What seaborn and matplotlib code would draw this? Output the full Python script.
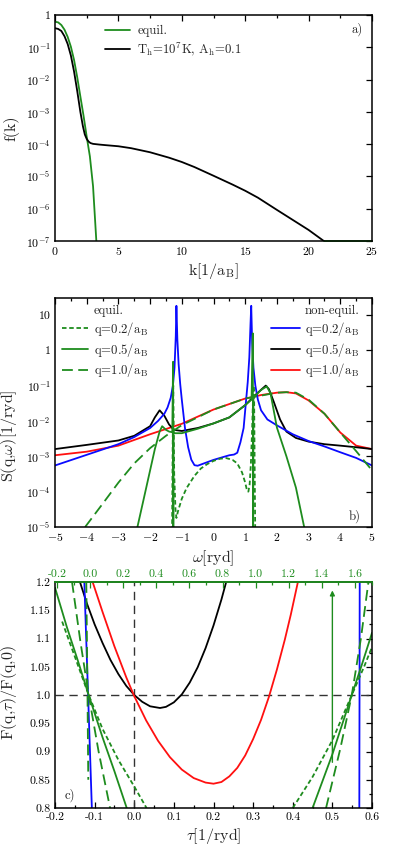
import numpy as np
import pandas as pd
import matplotlib
matplotlib.use("Agg")
import matplotlib.pyplot as plt
import seaborn as sns
from matplotlib.lines import Line2D
from matplotlib.ticker import FixedLocator, MultipleLocator, FixedFormatter, NullLocator

# ---------------- data: panel a ----------------
k_eq = [0.0, 0.25, 0.5, 0.75, 1.0, 1.25, 1.5, 1.75, 2.0, 2.25, 2.5, 2.75, 3.0, 3.26, 3.4]
f_eq = [6.2e-1, 5.9e-1, 4.9e-1, 3.5e-1, 2.1e-1, 1.05e-1, 4.1e-2, 1.2e-2, 3.0e-3, 7.6e-4,
        1.7e-4, 4.2e-5, 5.0e-6, 1.0e-7, 1.0e-8]
k_eq_tail = [21.2, 25.0]
f_eq_tail = [1.0e-7, 1.0e-7]
k_hot = [0.0, 0.25, 0.5, 0.75, 1.0, 1.25, 1.5, 1.75, 2.0, 2.2, 2.35, 2.5, 2.65, 2.8, 3.0,
         3.5, 4.0, 5.0, 6.0, 7.5, 9.0, 10.0, 11.0, 12.5, 14.0, 15.0, 16.0, 17.5, 19.0,
         20.0, 21.2]
f_hot = [3.9e-1, 3.7e-1, 3.2e-1, 2.2e-1, 1.26e-1, 5.6e-2, 1.8e-2, 4.5e-3, 1.0e-3, 3.6e-4,
         2.0e-4, 1.45e-4, 1.2e-4, 1.08e-4, 1.02e-4, 9.7e-5, 9.3e-5, 8.6e-5, 7.5e-5, 5.6e-5,
         3.8e-5, 2.8e-5, 1.95e-5, 1.05e-5, 5.6e-6, 3.6e-6, 2.2e-6, 9.2e-7, 3.9e-7, 2.2e-7,
         1.0e-7]

# ---------------- data: panel b (omega [ryd], S [1/ryd]) ----------------
w_b02 = [-5.0, -4.0, -3.0, -2.5, -2.0, -1.75, -1.55, -1.45, -1.35, -1.28, -1.23, -1.19,
         -1.17, -1.14, -1.1, -1.05, -1.0, -0.9, -0.8, -0.7, -0.6, -0.5, -0.3, 0.0, 0.3,
         0.5, 0.65, 0.75, 0.85, 0.95, 1.02, 1.08, 1.13, 1.17, 1.19, 1.22, 1.26, 1.32, 1.4,
         1.5, 1.7, 2.0, 2.5, 3.0, 3.5, 4.0, 4.5, 5.0]
S_b02 = [5.5e-4, 1.1e-3, 2.2e-3, 3.5e-3, 6.3e-3, 1.0e-2, 1.6e-2, 2.4e-2, 4.5e-2, 1.0e-1,
         3.2e-1, 2.5e0, 1.8e1, 2.0e0, 4.0e-1, 1.1e-1, 4.0e-2, 6.3e-3, 1.8e-3, 8.0e-4,
         5.6e-4, 5.4e-4, 6.3e-4, 7.9e-4, 9.5e-4, 1.07e-3, 1.12e-3, 1.26e-3, 2.5e-3,
         6.3e-3, 3.2e-2, 1.26e-1, 6.3e-1, 6.3e0, 1.8e1, 1.6e0, 3.2e-1, 1.0e-1, 4.0e-2,
         2.0e-2, 1.1e-2, 7.5e-3, 4.2e-3, 2.7e-3, 1.9e-3, 1.3e-3, 9.0e-4, 5.5e-4]
w_b05 = [-5.0, -4.0, -3.0, -2.5, -2.0, -1.85, -1.7, -1.55, -1.4, -1.25, -1.0, -0.5, 0.0,
         0.5, 1.0, 1.3, 1.5, 1.65, 1.75, 1.9, 2.1, 2.3, 2.6, 3.0, 3.5, 4.0, 4.5, 5.0]
S_b05 = [1.6e-3, 2.1e-3, 2.8e-3, 3.8e-3, 7.1e-3, 1.26e-2, 2.0e-2, 1.4e-2, 7.9e-3, 5.6e-3,
         5.2e-3, 6.3e-3, 8.5e-3, 1.26e-2, 2.8e-2, 5.2e-2, 7.6e-2, 1.0e-1, 7.9e-2, 3.5e-2,
         1.1e-2, 5.0e-3, 3.3e-3, 2.6e-3, 2.2e-3, 2.0e-3, 1.8e-3, 1.6e-3]
w_b10 = [-5.0, -4.0, -3.0, -2.0, -1.0, 0.0, 1.0, 1.5, 2.0, 2.3, 2.6, 3.0, 3.5, 4.0, 4.5, 5.0]
S_b10 = [1.07e-3, 1.35e-3, 2.0e-3, 4.2e-3, 8.3e-3, 2.1e-2, 4.3e-2, 5.4e-2, 6.3e-2, 6.5e-2,
         6.0e-2, 3.8e-2, 1.6e-2, 4.7e-3, 2.0e-3, 1.6e-3]
w_e10 = [-4.05, -3.5, -3.0, -2.5, -2.0, -1.5, -1.0, 0.0, 1.0, 2.0, 2.3, 2.6, 3.0, 3.5, 4.0,
         4.5, 5.0]
S_e10 = [1.0e-5, 4.5e-5, 1.8e-4, 6.3e-4, 1.7e-3, 3.8e-3, 7.6e-3, 2.1e-2, 4.3e-2, 6.3e-2,
         6.5e-2, 6.3e-2, 4.0e-2, 1.6e-2, 4.7e-3, 1.4e-3, 4.0e-4]
w_e05 = [-2.4, -2.2, -2.0, -1.85, -1.7, -1.62, -1.5, -1.4, -1.3, -1.275, -1.268, -1.262,
         -1.2, -1.0, -0.5, 0.0, 0.5, 1.0, 1.2, 1.24, 1.25, 1.26, 1.3, 1.5, 1.68, 1.8,
         2.0, 2.3, 2.6, 2.86]
S_e05 = [1.0e-5, 6.3e-5, 4.0e-4, 1.6e-3, 5.0e-3, 7.1e-3, 5.6e-3, 5.0e-3, 4.8e-3, 4.7e-1,
         1.0e-6, 4.6e-3, 4.5e-3, 4.5e-3, 6.0e-3, 8.5e-3, 1.26e-2, 2.8e-2, 4.0e-2, 3.0e0,
         1.0e-6, 4.5e-2, 5.0e-2, 7.5e-2, 9.5e-2, 6.0e-2, 6.5e-3, 1.0e-3, 1.3e-4, 1.0e-5]
w_e02 = [-1.31, -1.29, -1.27, -1.24, -1.2, -1.17, -1.12, -1.0, -0.85, -0.6, -0.4, -0.2,
         0.0, 0.2, 0.4, 0.6, 0.75, 0.9, 1.0, 1.06, 1.1, 1.14, 1.18, 1.22, 1.26, 1.28,
         1.30, 1.32]
S_e02 = [3.0e-6, 1.0e-3, 1.0e-1, 3.2e-4, 3.2e-5, 1.8e-5, 2.8e-5, 6.3e-5, 1.26e-4, 2.8e-4,
         4.5e-4, 6.0e-4, 7.4e-4, 8.5e-4, 8.9e-4, 7.9e-4, 6.3e-4, 3.5e-4, 1.8e-4, 1.05e-4,
         1.0e-4, 1.6e-4, 6.3e-4, 6.3e-3, 1.0e-1, 6.3e-2, 3.2e-4, 3.0e-6]

# ---------------- data: panel c (tau [1/ryd], F(q,tau)/F(q,0)) ----------------
t_black = [-0.137, -0.12, -0.1, -0.08, -0.06, -0.04, -0.02, 0.0, 0.02, 0.04, 0.065, 0.08,
           0.1, 0.12, 0.14, 0.16, 0.18, 0.2, 0.22, 0.232]
F_black = [1.2, 1.163, 1.125, 1.092, 1.062, 1.037, 1.016, 1.0, 0.988, 0.98, 0.977, 0.979,
           0.987, 1.001, 1.022, 1.049, 1.083, 1.123, 1.169, 1.2]
t_red = [-0.105, -0.08, -0.05, -0.02, 0.0, 0.03, 0.06, 0.09, 0.12, 0.15, 0.18, 0.2, 0.22,
         0.24, 0.26, 0.28, 0.3, 0.32, 0.34, 0.36, 0.38, 0.395, 0.413]
F_red = [1.2, 1.147, 1.086, 1.031, 0.998, 0.955, 0.919, 0.89, 0.868, 0.853, 0.845, 0.843,
         0.846, 0.856, 0.871, 0.893, 0.922, 0.956, 0.997, 1.045, 1.098, 1.142, 1.2]
t_blue_l = [-0.126, -0.107]
F_blue_l = [1.2, 0.8]
t_blue_r = [0.568, 0.569]
F_blue_r = [0.8, 1.2]
t_g02_l = [-0.182, -0.15, -0.115, -0.08, -0.04, 0.0, 0.031]
F_g02_l = [1.13, 1.068, 1.0, 0.94, 0.885, 0.838, 0.8]
t_g02_r = [0.40, 0.45, 0.50, 0.549, 0.58, 0.60]
F_g02_r = [0.8, 0.855, 0.92, 1.0, 1.05, 1.085]
t_g05_l = [-0.2, -0.17, -0.142, -0.115, -0.08, -0.05, -0.019]
F_g05_l = [1.19, 1.12, 1.06, 1.0, 0.925, 0.865, 0.8]
t_g05_r = [0.45, 0.5, 0.549, 0.575, 0.6]
F_g05_r = [0.8, 0.895, 1.0, 1.055, 1.11]
t_g10_l = [-0.157, -0.136, -0.115, -0.09, -0.061]
F_g10_l = [1.2, 1.095, 1.0, 0.9, 0.8]
t_g10_r = [0.484, 0.52, 0.549, 0.572, 0.591]
F_g10_r = [0.8, 0.905, 1.0, 1.1, 1.2]
t_g10v = [-0.121, -0.118, -0.116]
F_g10v = [1.2, 1.0, 0.85]

GREEN = "#1e8c1e"
BLUE = "#0a0aff"
RED = "#ff1010"

sns.set_theme(style="white")
plt.rcParams["font.family"] = ["cmr10", "DejaVu Serif"]
plt.rcParams["mathtext.fontset"] = "cm"
plt.rcParams["axes.unicode_minus"] = False
plt.rcParams["axes.formatter.use_mathtext"] = True

fig = plt.figure(figsize=(3.99, 8.52), dpi=100)
L, W = 55 / 399, 317 / 399
axa = fig.add_axes([L, 1 - 241 / 852, W, 226 / 852])
axb = fig.add_axes([L, 1 - 527 / 852, W, 229 / 852])
axc = fig.add_axes([L, 1 - 808 / 852, W, 226 / 852])

TICK = 8.5
LAB = 11.5
LEGA = 9.2
LEGB = 9.2
LW = 1.3
SD = (0, (2.5, 1.5))
LD = (0, (6, 3))


def line(ax, x, y, color, ls="-", lw=LW, **kw):
    sns.lineplot(x=x, y=y, ax=ax, color=color, linestyle=ls, linewidth=lw,
                 sort=False, estimator=None, legend=False, **kw)


def style(ax):
    for s in ax.spines.values():
        s.set_color("black")
        s.set_linewidth(1.1)
    ax.tick_params(which="both", direction="in", top=True, right=True,
                   labelsize=TICK, colors="black", pad=3)
    ax.tick_params(which="major", length=4, width=0.9)
    ax.tick_params(which="minor", length=2.5, width=0.9)


def logfmt(exps):
    out = []
    for e in exps:
        if e == 0:
            out.append("1")
        elif e == 1:
            out.append("10")
        else:
            out.append(r"10$^{%d}$" % e)
    return out

# ---------------- panel a ----------------
line(axa, k_eq, f_eq, GREEN)
line(axa, k_eq_tail, f_eq_tail, GREEN, clip_on=False)
line(axa, k_hot, f_hot, "black")
axa.set_yscale("log")
axa.set_xlim(0, 25)
axa.set_ylim(1e-7, 1)
ea = list(range(-7, 1))
axa.yaxis.set_major_locator(FixedLocator([10.0 ** e for e in ea]))
axa.yaxis.set_major_formatter(FixedFormatter(logfmt(ea)))
axa.yaxis.set_minor_locator(NullLocator())
axa.xaxis.set_major_locator(MultipleLocator(5))
axa.xaxis.set_minor_locator(MultipleLocator(2.5))
style(axa)
axa.set_xlabel(r"k[1/a$_\mathrm{B}$]", fontsize=LAB, labelpad=3)
axa.set_ylabel("f(k)", fontsize=LAB)
axa.yaxis.set_label_coords(-0.112, 0.5)
ha = [Line2D([], [], color=GREEN, lw=LW), Line2D([], [], color="black", lw=LW)]
axa.legend(ha, ["equil.", r"T$_\mathrm{h}$=10$^7$K, A$_\mathrm{h}$=0.1"],
           loc="upper left", bbox_to_anchor=(0.158, 0.955), frameon=False,
           borderaxespad=0, borderpad=0, fontsize=LEGA, handlelength=1.96,
           handletextpad=0.55, labelspacing=0.25)
axa.text(0.97, 0.935, "a)", transform=axa.transAxes, ha="right", va="center",
         fontsize=LEGA)

# ---------------- panel b ----------------
line(axb, w_b10, S_b10, RED)
line(axb, w_b05, S_b05, "black")
line(axb, w_b02, S_b02, BLUE)
line(axb, w_e10, S_e10, GREEN, ls=LD)
line(axb, w_e05, S_e05, GREEN)
line(axb, w_e02, S_e02, GREEN, ls=SD)
axb.set_yscale("log")
axb.set_xlim(-5, 5)
axb.set_ylim(1e-5, 30)
eb = list(range(-5, 2))
axb.yaxis.set_major_locator(FixedLocator([10.0 ** e for e in eb]))
axb.yaxis.set_major_formatter(FixedFormatter(logfmt(eb)))
axb.yaxis.set_minor_locator(NullLocator())
axb.xaxis.set_major_locator(MultipleLocator(1))
axb.xaxis.set_minor_locator(MultipleLocator(0.5))
style(axb)
axb.set_xlabel(r"$\omega$[ryd]", fontsize=LAB, labelpad=4)
axb.set_ylabel(r"S(q,$\omega$)[1/ryd]", fontsize=LAB)
axb.yaxis.set_label_coords(-0.115, 0.40)
blank = Line2D([], [], color="none")
hl = [blank, Line2D([], [], color=GREEN, lw=LW, linestyle=SD),
      Line2D([], [], color=GREEN, lw=LW), Line2D([], [], color=GREEN, lw=LW, linestyle=LD)]
labs = [r"q=0.2/a$_\mathrm{B}$", r"q=0.5/a$_\mathrm{B}$", r"q=1.0/a$_\mathrm{B}$"]
lg1 = axb.legend(hl, ["equil."] + labs, loc="upper left",
                 bbox_to_anchor=(0.022, 0.97), frameon=False, fontsize=LEGB,
                 borderaxespad=0, borderpad=0,
                 handlelength=2.03, handletextpad=0.47, labelspacing=0.22)
axb.add_artist(lg1)
hr = [blank, Line2D([], [], color=BLUE, lw=LW), Line2D([], [], color="black", lw=LW),
      Line2D([], [], color=RED, lw=LW)]
axb.legend(hr, ["non-equil."] + labs, loc="upper left",
           bbox_to_anchor=(0.681, 0.97), frameon=False, fontsize=LEGB,
           borderaxespad=0, borderpad=0,
           handlelength=2.27, handletextpad=0.4, labelspacing=0.22)
axb.text(0.965, 0.045, "b)", transform=axb.transAxes, ha="right", va="center",
         fontsize=LEGA)

# ---------------- panel c ----------------
DASHC = (0, (6, 4))
axc.axhline(1.0, color="#333333", lw=1.0, linestyle=DASHC)
axc.axvline(0.0, color="#333333", lw=1.0, linestyle=DASHC)
line(axc, t_black, F_black, "black")
line(axc, t_red, F_red, RED)
line(axc, t_blue_l, F_blue_l, BLUE)
line(axc, t_blue_r, F_blue_r, BLUE)
for tt, ff, ls in [(t_g02_l, F_g02_l, SD), (t_g02_r, F_g02_r, SD),
                   (t_g05_l, F_g05_l, "-"), (t_g05_r, F_g05_r, "-"),
                   (t_g10_l, F_g10_l, LD), (t_g10_r, F_g10_r, LD),
                   (t_g10v, F_g10v, LD)]:
    line(axc, tt, ff, GREEN, ls=ls)
axc.annotate("", xy=(0.5, 1.19), xytext=(0.5, 0.876),
             arrowprops=dict(arrowstyle="-|>", color=GREEN, lw=1.0, mutation_scale=7))
axc.set_xlim(-0.2, 0.6)
axc.set_ylim(0.8, 1.2)
axc.set_xticks(np.arange(-0.2, 0.61, 0.1))
axc.set_xticklabels(["-0.2", "-0.1", "0.0", "0.1", "0.2", "0.3", "0.4", "0.5", "0.6"])
axc.xaxis.set_minor_locator(MultipleLocator(0.05))
axc.set_yticks([0.8, 0.85, 0.9, 0.95, 1.0, 1.05, 1.1, 1.15, 1.2])
axc.set_yticklabels(["0.8", "0.85", "0.9", "0.95", "1.0", "1.05", "1.1", "1.15", "1.2"])
axc.yaxis.set_minor_locator(MultipleLocator(0.025))
style(axc)
axc.tick_params(which="both", top=False)
axc.set_xlabel(r"$\tau$[1/ryd]", fontsize=LAB, labelpad=3)
axc.set_ylabel(r"F(q,$\tau$)/F(q,0)", fontsize=LAB)
axc.yaxis.set_label_coords(-0.112, 0.51)
axc.text(0.03, 0.055, "c)", transform=axc.transAxes, ha="left", va="center",
         fontsize=LEGA)
axt = axc.twiny()
axt.set_xlim(-0.212, 1.703)
axt.set_xticks(np.arange(-0.2, 1.61, 0.2))
axt.set_xticklabels(["-0.2", "0.0", "0.2", "0.4", "0.6", "0.8", "1.0", "1.2", "1.4", "1.6"])
axt.xaxis.set_minor_locator(MultipleLocator(0.1))
axt.tick_params(which="both", direction="in", labelsize=TICK, colors=GREEN, pad=2)
axt.tick_params(which="major", length=4, width=0.9)
axt.tick_params(which="minor", length=2.5, width=0.9)
axt.spines["top"].set_color(GREEN)
axt.spines["top"].set_linewidth(1.3)
for s in ["left", "right", "bottom"]:
    axt.spines[s].set_visible(False)

fig.savefig("out.png", dpi=100)
